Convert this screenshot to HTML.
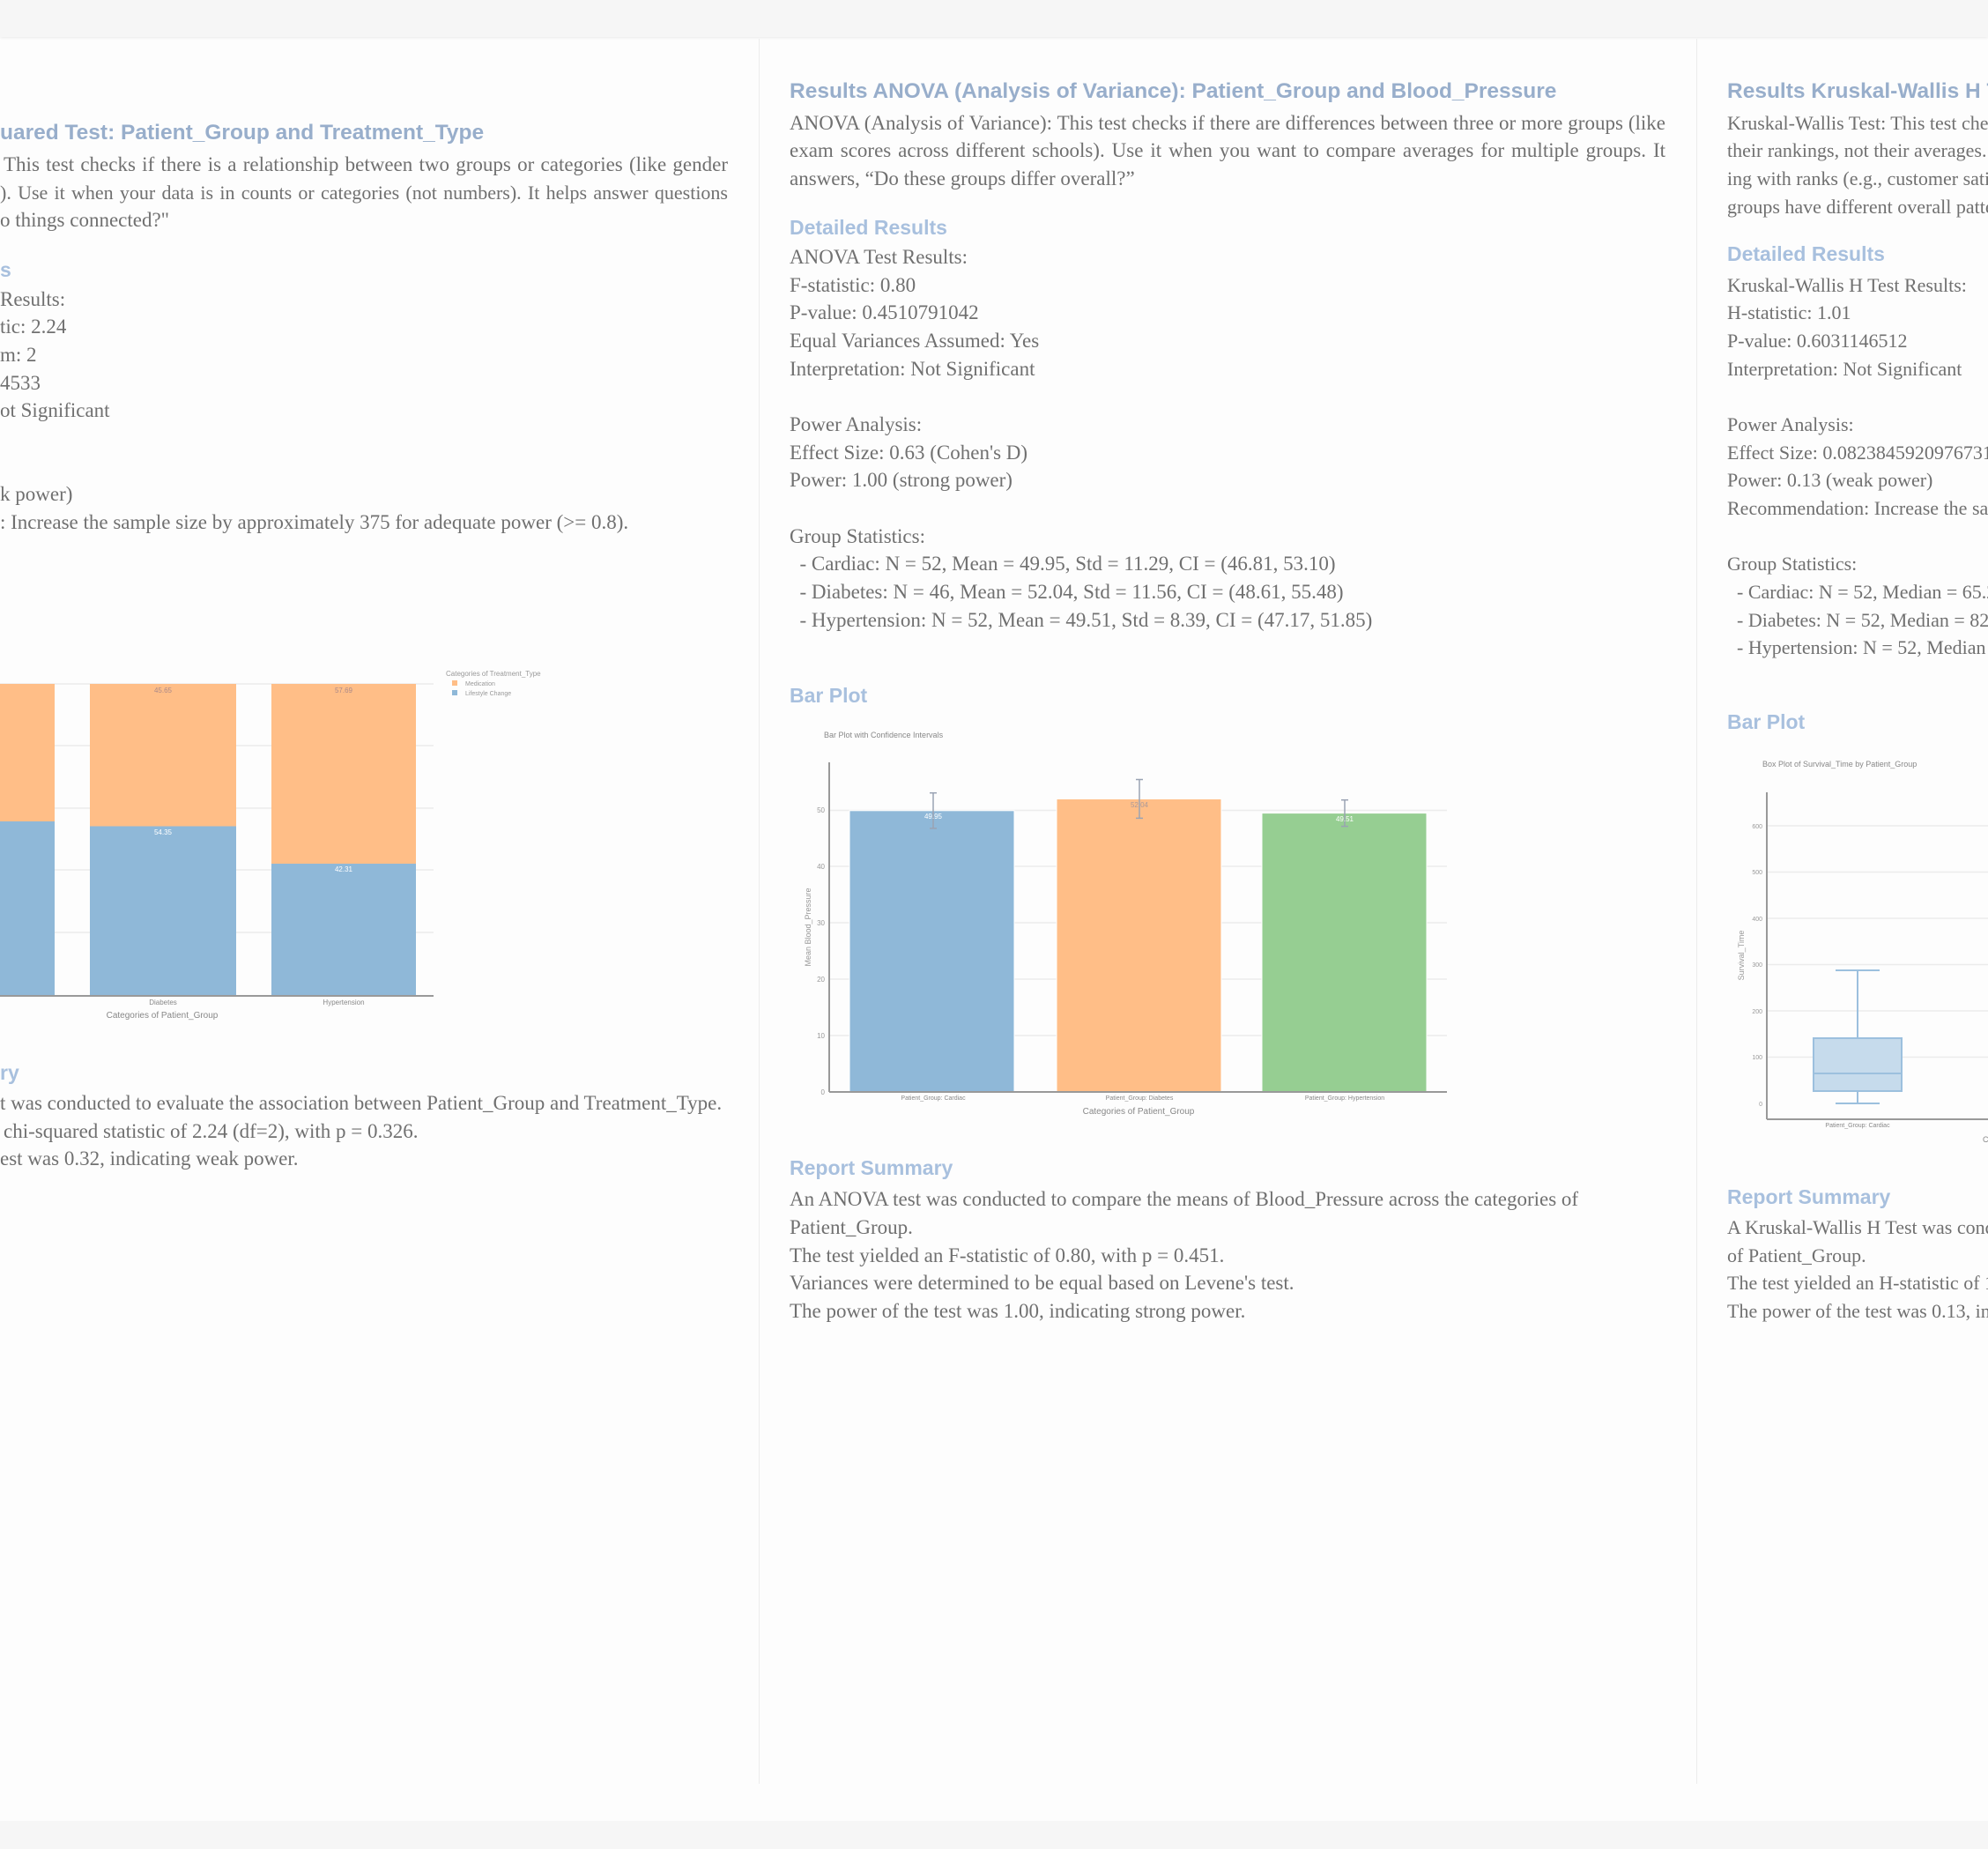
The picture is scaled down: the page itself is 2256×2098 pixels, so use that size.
<!DOCTYPE html>
<html style="overflow:hidden"><head><meta charset="utf-8"><style>
html,body{margin:0;padding:0;}
body{width:2256px;height:2098px;overflow:hidden;position:relative;background:#fdfdfd;font-family:"Liberation Serif",serif;}
.top{position:absolute;left:0;top:0;width:2256px;height:42px;background:#f6f6f6;box-shadow:0 1px 3px rgba(0,0,0,0.08);}
.bot{position:absolute;left:0;top:2066px;width:2256px;height:32px;background:#f6f6f6;}
.sep{position:absolute;top:44px;width:1px;height:1980px;background:#ececec;}
.l{position:absolute;white-space:nowrap;font-size:23px;line-height:32px;height:32px;color:#707070;}
.c3 .l{font-size:22px;}
.j{text-align:justify;text-align-last:justify;white-space:normal;overflow:hidden;}
.h{position:absolute;white-space:nowrap;font-family:"Liberation Sans",sans-serif;font-weight:bold;font-size:24.5px;line-height:32px;color:#98aecb;}
.h2{position:absolute;white-space:nowrap;font-family:"Liberation Sans",sans-serif;font-weight:bold;font-size:23px;line-height:32px;color:#a8c0de;}
.c3{position:absolute;left:0;top:0;width:2256px;height:2098px;overflow:hidden;}
svg text{font-family:"Liberation Sans",sans-serif;}
</style></head><body>
<div class="top"></div>
<div class="bot"></div>
<div class="sep" style="left:861px"></div>
<div class="sep" style="left:1925px"></div>

<!-- Column 1 -->
<div class="h" style="left:0;top:135px">uared Test: Patient_Group and Treatment_Type</div>
<div class="l j" style="left:4px;top:171px;width:822px">This test checks if there is a relationship between two groups or categories (like gender</div>
<div class="l j" style="left:0;top:203px;width:826px;font-size:22px">). Use it when your data is in counts or categories (not numbers). It helps answer questions</div>
<div class="l" style="left:0;top:234px">o things connected?"</div>
<div class="h2" style="left:0;top:290px">s</div>
<div class="l" style="left:0;top:324px">Results:</div>
<div class="l" style="left:0;top:355px">tic: 2.24</div>
<div class="l" style="left:0;top:387px">m: 2</div>
<div class="l" style="left:0;top:419px">4533</div>
<div class="l" style="left:0;top:450px">ot Significant</div>
<div class="l" style="left:0;top:545px">k power)</div>
<div class="l" style="left:0;top:577px">: Increase the sample size by approximately 375 for adequate power (&gt;= 0.8).</div>
<div class="h2" style="left:0;top:1201px">ry</div>
<div class="l" style="left:0;top:1236px">t was conducted to evaluate the association between Patient_Group and Treatment_Type.</div>
<div class="l" style="left:4px;top:1268px">chi-squared statistic of 2.24 (df=2), with p = 0.326.</div>
<div class="l" style="left:0;top:1299px">est was 0.32, indicating weak power.</div>

<!-- Column 2 -->
<div class="h" style="left:896px;top:88px">Results ANOVA (Analysis of Variance): Patient_Group and Blood_Pressure</div>
<div class="l j" style="left:896px;top:124px;width:994px">ANOVA (Analysis of Variance): This test checks if there are differences between three or more groups (like</div>
<div class="l j" style="left:896px;top:155px;width:994px">exam scores across different schools). Use it when you want to compare averages for multiple groups. It</div>
<div class="l" style="left:896px;top:187px">answers, “Do these groups differ overall?”</div>
<div class="h2" style="left:896px;top:242px">Detailed Results</div>
<div class="l" style="left:896px;top:276px">ANOVA Test Results:</div>
<div class="l" style="left:896px;top:308px">F-statistic: 0.80</div>
<div class="l" style="left:896px;top:339px">P-value: 0.4510791042</div>
<div class="l" style="left:896px;top:371px">Equal Variances Assumed: Yes</div>
<div class="l" style="left:896px;top:403px">Interpretation: Not Significant</div>
<div class="l" style="left:896px;top:466px">Power Analysis:</div>
<div class="l" style="left:896px;top:498px">Effect Size: 0.63 (Cohen's D)</div>
<div class="l" style="left:896px;top:529px">Power: 1.00 (strong power)</div>
<div class="l" style="left:896px;top:593px">Group Statistics:</div>
<div class="l" style="left:896px;top:624px">&nbsp;&nbsp;- Cardiac: N = 52, Mean = 49.95, Std = 11.29, CI = (46.81, 53.10)</div>
<div class="l" style="left:896px;top:656px">&nbsp;&nbsp;- Diabetes: N = 46, Mean = 52.04, Std = 11.56, CI = (48.61, 55.48)</div>
<div class="l" style="left:896px;top:688px">&nbsp;&nbsp;- Hypertension: N = 52, Mean = 49.51, Std = 8.39, CI = (47.17, 51.85)</div>
<div class="h2" style="left:896px;top:773px">Bar Plot</div>
<div class="h2" style="left:896px;top:1309px">Report Summary</div>
<div class="l" style="left:896px;top:1345px">An ANOVA test was conducted to compare the means of Blood_Pressure across the categories of</div>
<div class="l" style="left:896px;top:1377px">Patient_Group.</div>
<div class="l" style="left:896px;top:1409px">The test yielded an F-statistic of 0.80, with p = 0.451.</div>
<div class="l" style="left:896px;top:1440px">Variances were determined to be equal based on Levene's test.</div>
<div class="l" style="left:896px;top:1472px">The power of the test was 1.00, indicating strong power.</div>

<!-- Column 3 -->
<div class="c3">
<div class="h" style="left:1960px;top:88px">Results Kruskal-Wallis H Test: Patient_Group and Survival_Time</div>
<div class="l" style="left:1960px;top:124px">Kruskal-Wallis Test: This test checks if groups differ based on</div>
<div class="l" style="left:1960px;top:155px">their rankings, not their averages. Use it when your data is</div>
<div class="l" style="left:1960px;top:187px">ing with ranks (e.g., customer satisfaction scores). It answers</div>
<div class="l" style="left:1960px;top:219px">groups have different overall patterns?"</div>
<div class="h2" style="left:1960px;top:272px">Detailed Results</div>
<div class="l" style="left:1960px;top:308px">Kruskal-Wallis H Test Results:</div>
<div class="l" style="left:1960px;top:339px">H-statistic: 1.01</div>
<div class="l" style="left:1960px;top:371px">P-value: 0.6031146512</div>
<div class="l" style="left:1960px;top:403px">Interpretation: Not Significant</div>
<div class="l" style="left:1960px;top:466px">Power Analysis:</div>
<div class="l" style="left:1960px;top:498px">Effect Size: 0.08238459209767314</div>
<div class="l" style="left:1960px;top:529px">Power: 0.13 (weak power)</div>
<div class="l" style="left:1960px;top:561px">Recommendation: Increase the sample size</div>
<div class="l" style="left:1960px;top:624px">Group Statistics:</div>
<div class="l" style="left:1960px;top:656px">&nbsp;&nbsp;- Cardiac: N = 52, Median = 65.20</div>
<div class="l" style="left:1960px;top:688px">&nbsp;&nbsp;- Diabetes: N = 52, Median = 82.10</div>
<div class="l" style="left:1960px;top:719px">&nbsp;&nbsp;- Hypertension: N = 52, Median = 70.00</div>
<div class="h2" style="left:1960px;top:803px">Bar Plot</div>
<div class="h2" style="left:1960px;top:1342px">Report Summary</div>
<div class="l" style="left:1960px;top:1377px">A Kruskal-Wallis H Test was conducted to compare</div>
<div class="l" style="left:1960px;top:1409px">of Patient_Group.</div>
<div class="l" style="left:1960px;top:1440px">The test yielded an H-statistic of 1.01</div>
<div class="l" style="left:1960px;top:1472px">The power of the test was 0.13, indicating</div>
</div>

<svg width="2256" height="2098" style="position:absolute;left:0;top:0" xmlns="http://www.w3.org/2000/svg">
<g stroke="#ececec" stroke-width="1.5">
<line x1="0" y1="776" x2="492" y2="776"/><line x1="0" y1="846" x2="492" y2="846"/>
<line x1="0" y1="917" x2="492" y2="917"/><line x1="0" y1="987" x2="492" y2="987"/>
<line x1="0" y1="1058" x2="492" y2="1058"/>
</g>
<rect x="-50" y="776" width="112" height="156" fill="#ffbe87"/>
<rect x="-50" y="932" width="112" height="198" fill="#8fb8d8"/>
<rect x="102" y="776" width="166" height="162" fill="#ffbe87"/>
<rect x="102" y="937.5" width="166" height="192.5" fill="#8fb8d8"/>
<rect x="308" y="776" width="164" height="204" fill="#ffbe87"/>
<rect x="308" y="980" width="164" height="150" fill="#8fb8d8"/>
<line x1="0" y1="1130" x2="492" y2="1130" stroke="#999" stroke-width="2"/>
<g font-size="8" text-anchor="middle">
<text x="185" y="786" fill="#a88">45.65</text><text x="185" y="947" fill="#fff">54.35</text>
<text x="390" y="786" fill="#a88">57.69</text><text x="390" y="989" fill="#fff">42.31</text>
<text x="185" y="1140" fill="#888">Diabetes</text><text x="390" y="1140" fill="#888">Hypertension</text>
</g>
<text x="184" y="1155" font-size="10" fill="#888" text-anchor="middle">Categories of Patient_Group</text>
<text x="506" y="767" font-size="8" fill="#999">Categories of  Treatment_Type</text>
<rect x="513" y="772" width="6" height="6" fill="#ffbe87"/><text x="528" y="778" font-size="7" fill="#999">Medication</text>
<rect x="513" y="783" width="6" height="6" fill="#8fb8d8"/><text x="528" y="789" font-size="7" fill="#999">Lifestyle Change</text>

<text x="935" y="837" font-size="9" fill="#888">Bar Plot with Confidence Intervals</text>
<g stroke="#ececec" stroke-width="1.5">
<line x1="941" y1="919.5" x2="1642" y2="919.5"/><line x1="941" y1="983" x2="1642" y2="983"/>
<line x1="941" y1="1047" x2="1642" y2="1047"/><line x1="941" y1="1111" x2="1642" y2="1111"/>
<line x1="941" y1="1175" x2="1642" y2="1175"/>
</g>
<rect x="964" y="919.8" width="187" height="319.2" fill="#8fb8d8" stroke="#fff"/>
<rect x="1199" y="906.5" width="187" height="332.5" fill="#ffbe87" stroke="#fff"/>
<rect x="1432" y="922.6" width="187" height="316.4" fill="#96ce92" stroke="#fff"/>
<line x1="941" y1="865" x2="941" y2="1239" stroke="#999" stroke-width="2"/>
<line x1="941" y1="1239" x2="1642" y2="1239" stroke="#999" stroke-width="2"/>
<g stroke="#9aa3b3" stroke-width="1.5">
<line x1="1059" y1="899.7" x2="1059" y2="939.9"/><line x1="1055" y1="899.7" x2="1063" y2="899.7"/><line x1="1055" y1="939.9" x2="1063" y2="939.9"/>
<line x1="1293" y1="884.5" x2="1293" y2="928.4"/><line x1="1289" y1="884.5" x2="1297" y2="884.5"/><line x1="1289" y1="928.4" x2="1297" y2="928.4"/>
<line x1="1526" y1="907.7" x2="1526" y2="937.6"/><line x1="1522" y1="907.7" x2="1530" y2="907.7"/><line x1="1522" y1="937.6" x2="1530" y2="937.6"/>
</g>
<g font-size="8" text-anchor="middle">
<text x="1059" y="929" fill="#fff">49.95</text><text x="1293" y="916" fill="#a99">52.04</text><text x="1526" y="932" fill="#fff">49.51</text>
</g>
<g font-size="8" fill="#999" text-anchor="end">
<text x="936" y="922">50</text><text x="936" y="986">40</text><text x="936" y="1050">30</text>
<text x="936" y="1114">20</text><text x="936" y="1178">10</text><text x="936" y="1242">0</text>
</g>
<g font-size="7" fill="#888" text-anchor="middle">
<text x="1059" y="1248">Patient_Group: Cardiac</text><text x="1293" y="1248">Patient_Group: Diabetes</text><text x="1526" y="1248">Patient_Group: Hypertension</text>
</g>
<text x="1292" y="1264" font-size="10" fill="#888" text-anchor="middle">Categories of Patient_Group</text>
<text transform="translate(920,1052) rotate(-90)" font-size="9" fill="#999" text-anchor="middle">Mean Blood_Pressure</text>

<text x="2000" y="870" font-size="9" fill="#888">Box Plot of Survival_Time by Patient_Group</text>
<g stroke="#ececec" stroke-width="1.5">
<line x1="2005" y1="937" x2="2256" y2="937"/><line x1="2005" y1="989.5" x2="2256" y2="989.5"/>
<line x1="2005" y1="1042" x2="2256" y2="1042"/><line x1="2005" y1="1094.5" x2="2256" y2="1094.5"/>
<line x1="2005" y1="1147" x2="2256" y2="1147"/><line x1="2005" y1="1199.5" x2="2256" y2="1199.5"/>
</g>
<line x1="2005" y1="899" x2="2005" y2="1270" stroke="#999" stroke-width="2"/>
<line x1="2005" y1="1270" x2="2256" y2="1270" stroke="#999" stroke-width="2"/>
<g stroke="#9cc0de" stroke-width="2" fill="#c6dbec">
<line x1="2108" y1="1101" x2="2108" y2="1178"/><line x1="2108" y1="1238" x2="2108" y2="1252"/>
<line x1="2083" y1="1101" x2="2133" y2="1101"/><line x1="2083" y1="1252" x2="2133" y2="1252"/>
<rect x="2058" y="1178" width="100" height="60"/>
<line x1="2058" y1="1218" x2="2158" y2="1218"/>
</g>
<g font-size="7" fill="#999" text-anchor="end">
<text x="2000" y="940">600</text><text x="2000" y="992">500</text><text x="2000" y="1045">400</text>
<text x="2000" y="1097">300</text><text x="2000" y="1150">200</text><text x="2000" y="1202">100</text><text x="2000" y="1255">0</text>
</g>
<text x="2108" y="1279" font-size="7" fill="#888" text-anchor="middle">Patient_Group: Cardiac</text>
<text transform="translate(1979,1084) rotate(-90)" font-size="9" fill="#999" text-anchor="middle">Survival_Time</text>
<text x="2250" y="1296" font-size="9" fill="#888">C</text>
</svg>
</body></html>
